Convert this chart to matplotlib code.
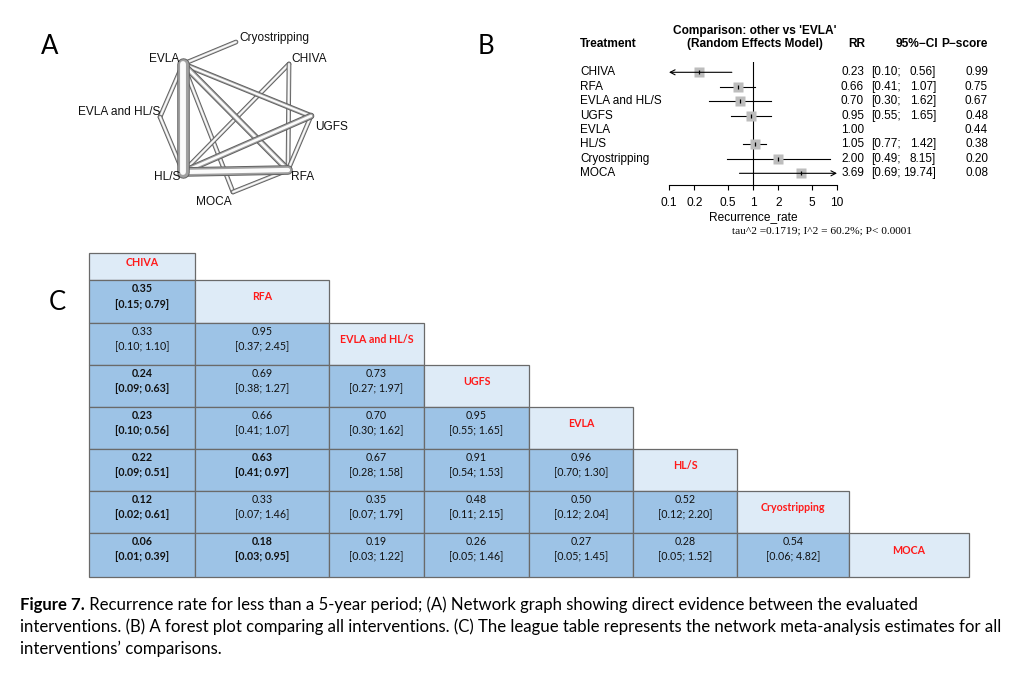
import numpy as np
import matplotlib.pyplot as plt
from matplotlib.patches import Rectangle

W, H = 1025, 673
SANS = 'Liberation Sans'
CAL = 'Lato'

# ---- Panel A: network graph ----
net_nodes = ['EVLA', 'Cryostripping', 'CHIVA', 'UGFS', 'RFA', 'MOCA', 'HL/S', 'EVLA and HL/S']
net_x = [183, 236, 289, 311, 288, 233, 183, 160]
net_y = [64, 42, 64, 116, 170, 192, 172, 117]
net_edges = [('EVLA', 'Cryostripping'), ('EVLA', 'EVLA and HL/S'), ('EVLA and HL/S', 'HL/S'),
             ('EVLA', 'MOCA'), ('MOCA', 'RFA'), ('CHIVA', 'HL/S'), ('CHIVA', 'RFA'),
             ('UGFS', 'RFA'), ('EVLA', 'UGFS'), ('EVLA', 'RFA'), ('HL/S', 'UGFS'),
             ('HL/S', 'RFA'), ('EVLA', 'HL/S')]
net_studies = [1, 1, 1, 1, 1, 1, 1, 1, 2, 3, 3, 6, 9]
# label placement: (x, y, ha)
net_labels = {'EVLA': (179, 59, 'right'), 'Cryostripping': (239, 38, 'left'),
              'CHIVA': (291, 59, 'left'), 'UGFS': (315, 127, 'left'),
              'RFA': (291, 177, 'left'), 'MOCA': (214, 202, 'center'),
              'HL/S': (180, 177, 'right'), 'EVLA and HL/S': (160, 112, 'right')}

# ---- Panel B: forest plot ----
treat = ['CHIVA', 'RFA', 'EVLA and HL/S', 'UGFS', 'EVLA', 'HL/S', 'Cryostripping', 'MOCA']
rr = [0.23, 0.66, 0.70, 0.95, 1.00, 1.05, 2.00, 3.69]
ci_lo = [0.10, 0.41, 0.30, 0.55, np.nan, 0.77, 0.49, 0.69]
ci_hi = [0.56, 1.07, 1.62, 1.65, np.nan, 1.42, 8.15, 19.74]
pscore = [0.99, 0.75, 0.67, 0.48, 0.44, 0.38, 0.20, 0.08]
xticks = [0.1, 0.2, 0.5, 1, 2, 5, 10]
xticklabels = ['0.1', '0.2', '0.5', '1', '2', '5', '10']

# ---- Panel C: league table ----
league_names = ['CHIVA', 'RFA', 'EVLA and HL/S', 'UGFS', 'EVLA', 'HL/S', 'Cryostripping', 'MOCA']
league_est = [[],
              [0.35],
              [0.33, 0.95],
              [0.24, 0.69, 0.73],
              [0.23, 0.66, 0.70, 0.95],
              [0.22, 0.63, 0.67, 0.91, 0.96],
              [0.12, 0.33, 0.35, 0.48, 0.50, 0.52],
              [0.06, 0.18, 0.19, 0.26, 0.27, 0.28, 0.54]]
league_lo = [[],
             [0.15],
             [0.10, 0.37],
             [0.09, 0.38, 0.27],
             [0.10, 0.41, 0.30, 0.55],
             [0.09, 0.41, 0.28, 0.54, 0.70],
             [0.02, 0.07, 0.07, 0.11, 0.12, 0.12],
             [0.01, 0.03, 0.03, 0.05, 0.05, 0.05, 0.06]]
league_hi = [[],
             [0.79],
             [1.10, 2.45],
             [0.63, 1.27, 1.97],
             [0.56, 1.07, 1.62, 1.65],
             [0.51, 0.97, 1.58, 1.53, 1.30],
             [0.61, 1.46, 1.79, 2.15, 2.04, 2.20],
             [0.39, 0.95, 1.22, 1.46, 1.45, 1.52, 4.82]]

caption = ["Recurrence rate for less than a 5-year period; (A) Network graph showing direct evidence between the evaluated",
           "interventions. (B) A forest plot comparing all interventions. (C) The league table represents the network meta-analysis estimates for all",
           "interventions\u2019 comparisons."]

fig = plt.figure(figsize=(W / 100, H / 100), dpi=100)
bg = fig.add_axes([0, 0, 1, 1])
bg.set_xlim(0, W)
bg.set_ylim(H, 0)
bg.axis('off')

# panel letters
bg.text(50, 47, 'A', fontsize=18.5, family=CAL, ha='center', va='center')
bg.text(486, 47, 'B', fontsize=18.5, family=CAL, ha='center', va='center')
bg.text(57, 302, 'C', fontsize=18.5, family=CAL, ha='center', va='center')

# ---- network ----
pos = {n: (x, y) for n, x, y in zip(net_nodes, net_x, net_y)}
for (a, b), n in zip(net_edges, net_studies):
    xs = [pos[a][0], pos[b][0]]
    ys = [pos[a][1], pos[b][1]]
    lw = 3.4 + 0.7 * (n - 1)
    mid = '#c0c0c0' if n == 1 else '#a0a0a0'
    bg.plot(xs, ys, color='#5e5e5e', lw=lw, solid_capstyle='round')
    bg.plot(xs, ys, color=mid, lw=lw - 1.3, solid_capstyle='round')
    bg.plot(xs, ys, color='#fbfbfb', lw=(lw - 1.3) * 0.55, solid_capstyle='round')
for n, (x, y, ha) in net_labels.items():
    bg.text(x, y, n, fontsize=8.6, family=SANS, ha=ha, va='center', color='#111111')

# ---- forest plot ----
row_y0, row_dy = 72.3, 14.43
ax_top, ax_bot = 62, 185
axf = fig.add_axes([669 / W, 1 - ax_bot / H, (837 - 669) / W, (ax_bot - ax_top) / H])
axf.set_xscale('log')
axf.set_xlim(0.1, 10)
axf.set_ylim((ax_bot - row_y0) / row_dy, (ax_top - row_y0) / row_dy)
axf.patch.set_alpha(0)
for s in ['top', 'right', 'left']:
    axf.spines[s].set_visible(False)
axf.spines['bottom'].set_linewidth(0.8)
axf.set_yticks([])
axf.set_xticks(xticks)
axf.set_xticklabels(xticklabels, family=SANS, fontsize=8.6)
axf.minorticks_off()
axf.tick_params(axis='x', direction='out', length=3.8, width=0.8, pad=4.5)
axf.set_xlabel('Recurrence_rate', family=SANS, fontsize=8.6, labelpad=1.5)
axf.axvline(1, color='black', lw=0.8)

xmin, xmax = axf.get_xlim()
arrow = dict(arrowstyle='->,head_length=0.35,head_width=0.18', lw=0.8, color='black',
             shrinkA=0, shrinkB=0)
for i, (est, lo, hi) in enumerate(zip(rr, ci_lo, ci_hi)):
    if np.isnan(lo):
        continue
    lo_c, hi_c = max(lo, xmin), min(hi, xmax)
    if lo <= xmin:
        axf.annotate('', xy=(lo_c, i), xytext=(hi_c, i), annotation_clip=False, arrowprops=arrow)
    elif hi >= xmax:
        axf.annotate('', xy=(hi_c, i), xytext=(lo_c, i), annotation_clip=False, arrowprops=arrow)
    else:
        axf.plot([lo_c, hi_c], [i, i], color='black', lw=0.8)
    axf.plot(est, i, 's', ms=7.2, color='#bdbdbd', mec='none', clip_on=False)
    axf.plot(est, i, '|', ms=3.2, mew=0.9, color='black', clip_on=False)

hdr = dict(family=SANS, fontsize=8.6, weight='bold', va='center')
bg.text(580, 44, 'Treatment', ha='left', **hdr)
bg.text(755, 31, "Comparison: other vs 'EVLA'", ha='center', **hdr)
bg.text(755, 44, '(Random Effects Model)', ha='center', **hdr)
bg.text(865, 44, 'RR', ha='right', **hdr)
bg.text(938, 44, '95%\u2212CI', ha='right', **hdr)
bg.text(988, 44, 'P\u2212score', ha='right', **hdr)
row = dict(family=SANS, fontsize=8.5, va='center')
for i, t in enumerate(treat):
    y = row_y0 + i * row_dy
    bg.text(580, y, t, ha='left', **row)
    bg.text(864, y, f'{rr[i]:.2f}', ha='right', **row)
    if not np.isnan(ci_lo[i]):
        bg.text(871, y, f'[{ci_lo[i]:.2f};', ha='left', **row)
        bg.text(936, y, f'{ci_hi[i]:.2f}]', ha='right', **row)
    bg.text(988, y, f'{pscore[i]:.2f}', ha='right', **row)
bg.text(822, 231, 'tau^2 =0.1719; I^2 = 60.2%; P< 0.0001', family='Liberation Serif',
        fontsize=8.2, ha='center', va='center')

# ---- league table ----
col_edges = [89, 195, 329, 424, 529, 633, 737, 849, 969]
row_edges = [253, 280, 323, 365, 407, 449, 491, 533, 577]
for i, name in enumerate(league_names):
    y0, y1 = row_edges[i], row_edges[i + 1]
    for j in range(i + 1):
        x0, x1 = col_edges[j], col_edges[j + 1]
        xc = (x0 + x1) / 2
        if j == i:
            bg.add_patch(Rectangle((x0, y0), x1 - x0, y1 - y0, facecolor='#deebf7',
                                   edgecolor='#6a6a6a', lw=0.9))
            bg.text(xc, (y0 + y1) / 2 - 4.5, name, color='#ff1a1a', weight='bold',
                    family=CAL, fontsize=7.7, ha='center', va='center')
        else:
            est, lo, hi = league_est[i][j], league_lo[i][j], league_hi[i][j]
            bg.add_patch(Rectangle((x0, y0), x1 - x0, y1 - y0, facecolor='#9dc3e6',
                                   edgecolor='#6a6a6a', lw=0.9))
            w = 'bold' if hi < 1 else 'normal'
            bg.text(xc, y0 + 8.5, f'{est:.2f}', weight=w, family=CAL, fontsize=7.7,
                    ha='center', va='center', color='#111111')
            bg.text(xc, y0 + 24, f'[{lo:.2f}; {hi:.2f}]', weight=w, family=CAL,
                    fontsize=7.7, ha='center', va='center', color='#111111')

# ---- caption ----
cap_y = [605, 627, 649]
cap_fs = 12.1
lab = bg.text(20, cap_y[0], 'Figure 7.', weight='bold', family=CAL, fontsize=cap_fs,
              ha='left', va='center')
bg.annotate(' ' + caption[0], xy=(1, 0.5), xycoords=lab, family=CAL, fontsize=cap_fs,
            ha='left', va='center')
for y, line in zip(cap_y[1:], caption[1:]):
    bg.text(20, y, line, family=CAL, fontsize=cap_fs, ha='left', va='center')

fig.savefig('out.png', dpi=100)
